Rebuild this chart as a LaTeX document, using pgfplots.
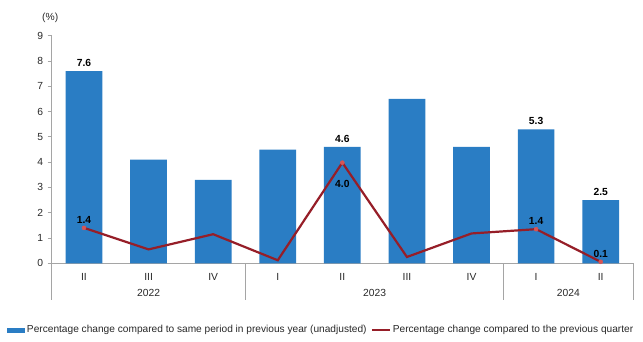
\documentclass[border=0pt]{standalone}
\usepackage{pgfplots}
\pgfplotsset{compat=1.18}
\usepackage{fontspec}
\setmainfont{Liberation Sans}
\definecolor{barblue}{RGB}{42,125,196}
\definecolor{linered}{RGB}{150,30,40}
\definecolor{markred}{RGB}{215,85,85}
\definecolor{axgray}{RGB}{165,165,165}
\definecolor{txt}{RGB}{40,40,40}
\newcommand{\fs}{\fontsize{10.3}{12}\selectfont}
\begin{document}
\begin{tikzpicture}
\path[use as bounding box] (0,0) rectangle (643pt,341pt);
\begin{axis}[
  at={(51.7pt,77.7pt)}, anchor=south west,
  scale only axis, width=581.3pt, height=227.6pt,
  xmin=-0.5, xmax=8.5, ymin=0, ymax=9,
  axis x line*=bottom, axis y line*=left,
  axis line style={draw=axgray, line width=0.8pt},
  xtick={0,...,8},
  xticklabels={II,III,IV,I,II,III,IV,I,II},
  ytick={0,...,9},
  x tick style={draw=none},
  y tick style={draw=axgray, line width=0.8pt},
  tick align=outside, major tick length=4pt,
  /pgf/number format/assume math mode=true,
  tick label style={font=\fs, text=txt},
  xticklabel style={yshift=-3pt},
  yticklabel style={xshift=-1pt},
  clip=false,
  legend style={at={(0,0)}, anchor=west, xshift=-44.7pt, yshift=-66.7pt,
    draw=none, fill=none, inner sep=0pt, outer sep=0pt,
    font=\fontsize{10.15}{12}\selectfont, text=txt,
    legend columns=2,
    /tikz/every even column/.append style={column sep=2pt}},
  legend cell align=left,
]
\addplot[ybar, bar width=36.7pt, fill=barblue, draw=none,
  legend image code/.code={\fill[barblue] (0pt,-2.5pt) rectangle (18pt,2pt);},
  nodes near coords, point meta=explicit symbolic,
  every node near coord/.append style={font=\bfseries\fs, text=black, yshift=1pt}]
  coordinates {(0,7.6)[7.6] (1,4.1)[{}] (2,3.3)[{}] (3,4.5)[{}] (4,4.6)[4.6] (5,6.5)[{}] (6,4.6)[{}] (7,5.3)[5.3] (8,2.5)[2.5]};
\addlegendentry{Percentage change compared to same period in previous year (unadjusted)}
\addplot[linered, line width=2.2pt, mark=*, mark indices={1,5,8,9},
  mark options={markred, draw=markred, scale=1.0, line width=0.5pt},
  legend image code/.code={\draw[linered, line width=2.2pt] (0pt,0pt) -- (18pt,0pt);}]
  coordinates {(0,1.4) (1,0.55) (2,1.15) (3,0.12) (4,3.98) (5,0.25) (6,1.18) (7,1.35) (8,0.06)};
\addlegendentry{Percentage change compared to the previous quarter}
\addplot[draw=none, nodes near coords, point meta=explicit symbolic,
  every node near coord/.append style={font=\bfseries\fs, text=black, yshift=1pt}, forget plot]
  coordinates {(0,1.4)[1.4] (7,1.35)[1.4] (8,0.06)[0.1]};
\addplot[draw=none, nodes near coords, point meta=explicit symbolic,
  every node near coord/.append style={font=\bfseries\fs, text=black, anchor=north, yshift=-14pt}, forget plot]
  coordinates {(4,3.98)[4.0]};
\draw[axgray, line width=0.8pt] (axis cs:-0.5,0) -- ++(0pt,-37pt);
\draw[axgray, line width=0.8pt] (axis cs:2.5,0) -- ++(0pt,-37pt);
\draw[axgray, line width=0.8pt] (axis cs:6.5,0) -- ++(0pt,-37pt);
\draw[axgray, line width=0.8pt] (axis cs:8.5,0) -- ++(0pt,-37pt);
\node[font=\fs, text=txt] at ([yshift=-29.7pt]axis cs:1,0) {2022};
\node[font=\fs, text=txt] at ([yshift=-29.7pt]axis cs:4.5,0) {2023};
\node[font=\fs, text=txt] at ([yshift=-29.7pt]axis cs:7.5,0) {2024};
\node[font=\fs, text=txt] at ([xshift=-1.5pt,yshift=18pt]axis cs:-0.5,9) {(\%)};
\end{axis}
\end{tikzpicture}
\end{document}
